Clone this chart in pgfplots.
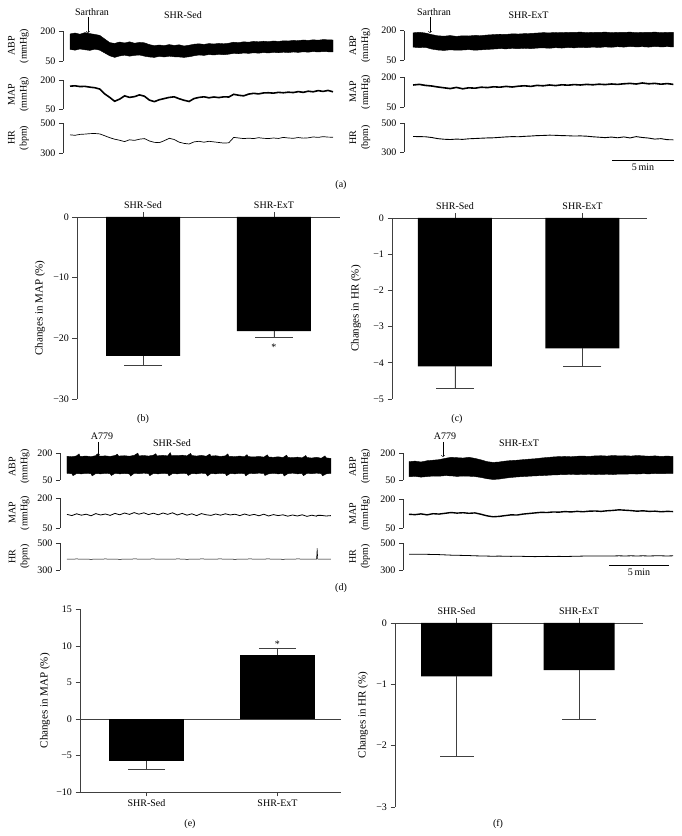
\documentclass[border=0pt]{standalone}
\usepackage{pgfplots}
\pgfplotsset{compat=1.18}
\usepackage{pgfplotstable}
\usepackage{fontspec}
\setmainfont{Liberation Serif}

% columns: time (min), MAP (mmHg), HR (bpm)
\pgfplotstableread{
t map hr
0.0 168 421
0.4 170 418
0.8 166 424
1.2 167 426
1.6 163 429
2.0 160 430
2.4 153 427
2.8 128 415
3.2 110 402
3.6 90 392
4.0 101 385
4.4 118 376
4.8 110 388
5.2 114 384
5.6 123 392
6.0 116 396
6.4 96 380
6.8 88 371
7.2 98 369
7.6 104 382
8.0 110 398
8.4 113 390
8.8 103 372
9.2 95 364
9.6 89 360
10.0 104 374
10.4 110 378
10.8 113 372
11.2 108 378
11.6 112 374
12.0 109 370
12.4 113 366
12.8 112 368
13.2 126 404
13.6 121 400
14.0 118 396
14.4 127 399
14.8 131 396
15.2 128 402
15.6 133 398
16.0 134 396
16.4 132 400
16.8 136 397
17.2 134 404
17.6 137 400
18.0 135 398
18.4 140 403
18.8 136 399
19.2 142 401
19.6 139 407
20.0 145 404
20.4 141 409
20.8 146 406
21.2 139 405
}\aL

\pgfplotstableread{
t map hr
0.0 160 407
0.5 163 406
1.0 158 405
1.5 155 400
2.0 150 392
2.5 146 388
3.0 142 386
3.5 148 389
4.0 141 387
4.5 146 391
5.0 144 393
5.5 149 395
6.0 147 397
6.5 151 398
7.0 149 401
7.5 153 404
8.0 150 406
8.5 154 405
9.0 156 408
9.5 153 410
10.0 158 413
10.5 156 414
11.0 160 416
11.5 157 415
12.0 161 413
12.5 159 412
13.0 162 410
13.5 160 411
14.0 163 409
14.5 161 405
15.0 164 402
15.5 162 399
16.0 165 403
16.5 163 398
17.0 166 404
17.5 168 397
18.0 165 406
18.5 170 400
19.0 166 396
19.5 168 389
20.0 164 392
20.5 167 385
21.0 163 384
}\aR

\pgfplotstableread{
t map hr
0.0 118 381
0.4 112 380
0.8 121 382
1.2 114 380
1.6 119 381
2.0 111 379
2.4 122 381
2.8 115 380
3.2 120 382
3.6 113 380
4.0 123 381
4.4 116 379
4.8 125 381
5.2 118 380
5.6 127 382
6.0 119 381
6.4 126 380
6.8 117 381
7.2 124 382
7.6 116 380
8.0 125 381
8.4 118 381
8.8 126 380
9.2 115 382
9.6 123 381
10.0 114 379
10.4 121 381
10.8 112 380
11.2 122 382
11.6 116 381
12.0 113 380
12.4 120 381
12.8 114 382
13.2 121 380
13.6 115 381
14.0 119 379
14.4 112 381
14.8 120 380
15.2 113 382
15.6 118 381
16.0 111 380
16.4 119 381
16.8 110 382
17.2 117 380
17.6 112 381
18.0 116 379
18.4 109 381
18.8 115 380
19.2 110 382
19.6 116 381
20.0 108 380
20.4 114 381
20.8 109 380
20.85 112 461
20.9 113 381
21.2 113 381
21.6 110 380
22.0 112 381
}\dL

\pgfplotstableread{
t map hr
0.0 121 417
0.5 119 417
1.0 123 416
1.5 118 416
2.0 124 415
2.5 122 414
3.0 126 412
3.5 130 410
4.0 127 409
4.5 129 408
5.0 126 407
5.5 128 405
6.0 121 404
6.5 113 403
7.0 108 402
7.5 110 403
8.0 114 402
8.5 118 401
9.0 117 402
9.5 122 401
10.0 125 400
10.5 128 399
11.0 131 400
11.5 130 401
12.0 133 400
12.5 132 401
13.0 135 400
13.5 133 401
14.0 136 402
14.5 134 403
15.0 137 403
15.5 138 404
16.0 136 403
16.5 139 404
17.0 141 404
17.5 144 405
18.0 142 404
18.5 140 405
19.0 137 404
19.5 139 405
20.0 136 404
20.5 137 405
21.0 134 405
21.5 136 404
22.0 135 405
}\dR

\newcommand{\fs}{\fontsize{10}{12}\selectfont}
\newcommand{\fl}{\fontsize{11}{13}\selectfont}

\pgfplotsset{
  tr/.style={scale only axis, anchor=south west, axis x line=none, axis y line*=left, clip=false,
    tick align=outside, major tick length=4pt,
    axis line style={black!80, line width=0.5pt}, tick style={black!80, line width=0.5pt},
    tick label style={font=\fs},
    ylabel style={font=\fs, align=center, anchor=center}},
  bp/.style={tr, ymin=50, ymax=200, ytick={50,200}, yticklabels={50,200}},
  hp/.style={tr, ymin=300, ymax=500, ytick={300,500}, yticklabels={300,500}},
  bc/.style={scale only axis, anchor=south west, axis y line*=left, tick align=outside,
    major tick length=4.5pt,
    axis line style={black!75, line width=0.6pt}, tick style={black!75, line width=0.6pt},
    xtick={1,2}, xticklabels={SHR-Sed,SHR-ExT}, tick label style={font=\fs},
    ylabel style={font=\fl, anchor=center}},
  bb/.style={ybar, bar width=#1, bar shift=0pt, fill=black, draw=none},
  eb/.style 2 args={error bars/.cd, y dir=#1, y explicit,
    error bar style={black!75, line width=0.6pt},
    error mark options={rotate=90, mark size=#2, black!75, line width=0.6pt}},
  band/.style={fill=black, draw=black, line width=0.4pt},
}

\begin{document}
\begin{tikzpicture}
\useasboundingbox (0,0) rectangle (682pt,836pt);

% ---------- (a) left ----------
\begin{axis}[bp, at={(63pt,775pt)}, width=270pt, height=30pt, xmin=-0.565, xmax=21.2,
  ylabel={ABP\\(mmHg)}, ylabel style={at={(axis description cs:-0.165,0.5)}}]
\addplot[band] coordinates {(0,185)(0.4,190)(0.8,184)(1.2,192)(1.6,187)(2.0,183)(2.4,178)(2.8,160)(3.2,142)(3.6,138)(4.0,145)(4.4,140)(4.8,146)(5.2,139)(5.6,143)(6.0,141)(6.4,132)(6.8,127)(7.2,130)(7.6,127)(8.0,132)(8.4,128)(8.8,131)(9.2,125)(9.6,129)(10.0,134)(10.4,136)(10.8,133)(11.2,137)(11.6,135)(12.0,138)(12.4,136)(12.8,139)(13.2,144)(13.6,142)(14.0,146)(14.4,144)(14.8,148)(15.2,146)(15.6,149)(16.0,147)(16.4,150)(16.8,148)(17.2,151)(17.6,150)(18.0,153)(18.4,152)(18.8,155)(19.2,153)(19.6,156)(20.0,154)(20.4,157)(20.8,156)(21.2,155)
(21.2,95)(20.8,96)(20.4,97)(20.0,95)(19.6,97)(19.2,94)(18.8,96)(18.4,93)(18.0,95)(17.6,92)(17.2,94)(16.8,91)(16.4,93)(16.0,90)(15.6,92)(15.2,89)(14.8,91)(14.4,88)(14.0,90)(13.6,86)(13.2,88)(12.8,84)(12.4,81)(12.0,83)(11.6,80)(11.2,82)(10.8,78)(10.4,80)(10.0,76)(9.6,71)(9.2,68)(8.8,70)(8.4,71)(8.0,74)(7.6,70)(7.2,73)(6.8,68)(6.4,70)(6.0,74)(5.6,80)(5.2,78)(4.8,74)(4.4,79)(4.0,75)(3.6,68)(3.2,76)(2.8,90)(2.4,104)(2.0,109)(1.6,103)(1.2,106)(0.8,110)(0.4,104)(0.0,108)} -- cycle;
\end{axis}
\begin{axis}[bp, at={(63pt,727pt)}, width=270pt, height=29pt, xmin=-0.565, xmax=21.2,
  ylabel={MAP\\(mmHg)}, ylabel style={at={(axis description cs:-0.165,0.5)}}]
\addplot[black, line width=1.6pt] table[x=t,y=map]{\aL};
\end{axis}
\begin{axis}[hp, at={(63pt,683pt)}, width=270pt, height=30pt, xmin=-0.565, xmax=21.2,
  ylabel={HR\\(bpm)}, ylabel style={at={(axis description cs:-0.165,0.5)}}]
\addplot[black, line width=0.7pt] table[x=t,y=hr]{\aL};
\end{axis}

% ---------- (a) right ----------
\begin{axis}[bp, at={(404pt,776pt)}, width=270pt, height=29.3pt, xmin=-0.73, xmax=21.05,
  ylabel={ABP\\(mmHg)}, ylabel style={at={(axis description cs:-0.163,0.5)}}]
\addplot[band] coordinates {(0,189)(0.5,192)(1,188)(1.5,180)(2,174)(2.5,172)(3,175)(3.5,171)(4,174)(4.5,173)(5,176)(5.5,175)(6,178)(6.5,180)(7,182)(7.5,181)(8,184)(8.5,183)(9,185)(9.5,186)(10,188)(10.5,190)(11,189)(11.5,191)(12,190)(12.5,192)(13,191)(13.5,193)(14,190)(14.5,192)(15,191)(15.5,193)(16,190)(16.5,192)(17,191)(17.5,193)(18,190)(18.5,192)(19,191)(19.5,193)(20,190)(20.5,192)(21,191)
(21,117)(20.5,118)(20,117)(19.5,119)(19,116)(18.5,118)(18,117)(17.5,119)(17,116)(16.5,118)(16,115)(15.5,117)(15,114)(14.5,116)(14,113)(13.5,115)(13,112)(12.5,114)(12,111)(11.5,113)(11,110)(10.5,112)(10,111)(9.5,108)(9,110)(8.5,108)(8,109)(7.5,107)(7,108)(6.5,106)(6,104)(5.5,102)(5,100)(4.5,103)(4,101)(3.5,100)(3,102)(2.5,99)(2,101)(1.5,106)(1,115)(0.5,113)(0,116)} -- cycle;
\end{axis}
\begin{axis}[bp, at={(404pt,729pt)}, width=270pt, height=30pt, xmin=-0.73, xmax=21.05,
  ylabel={MAP\\(mmHg)}, ylabel style={at={(axis description cs:-0.163,0.5)}}]
\addplot[black, line width=1.6pt] table[x=t,y=map]{\aR};
\end{axis}
\begin{axis}[hp, at={(404pt,684pt)}, width=270pt, height=29pt, xmin=-0.73, xmax=21.05,
  ylabel={HR\\(bpm)}, ylabel style={at={(axis description cs:-0.163,0.5)}}]
\addplot[black, line width=0.9pt] table[x=t,y=hr]{\aR};
\addplot[black, line width=0.6pt] coordinates {(16.05,245) (21.05,245)};
\node[font=\fs] at (axis cs:18.55,197) {5\,min};
\end{axis}

% ---------- (d) left ----------
\begin{axis}[bp, at={(60pt,356pt)}, width=273pt, height=27pt, xmin=-0.583, xmax=22.17,
  ylabel={ABP\\(mmHg)}, ylabel style={at={(axis description cs:-0.150,0.5)}}]
\addplot[band] coordinates {(0,182)(0.4,179)(0.8,184)(1.0,195)(1.1,181)(1.6,183)(2.0,180)(2.4,185)(2.6,197)(2.7,182)(3.2,184)(3.6,181)(4.0,186)(4.2,193)(4.3,183)(4.8,185)(5.2,182)(5.6,187)(5.9,199)(6.0,184)(6.4,186)(6.8,183)(7.2,188)(7.4,196)(7.5,184)(8.0,187)(8.4,184)(8.6,202)(8.7,186)(9.2,185)(9.6,188)(10.0,184)(10.3,198)(10.4,186)(10.8,183)(11.2,187)(11.6,182)(11.9,194)(12.0,183)(12.4,185)(12.8,181)(13.2,184)(13.4,195)(13.5,182)(14.0,180)(14.4,183)(14.8,179)(15.0,191)(15.1,180)(15.6,178)(16.0,181)(16.4,177)(16.7,190)(16.8,178)(17.2,176)(17.6,179)(18.0,175)(18.3,188)(18.4,176)(18.8,174)(19.2,177)(19.6,173)(19.9,186)(20.0,175)(20.4,172)(20.8,176)(21.2,171)(21.5,184)(21.6,173)(22.0,170)
(22.0,87)(21.6,84)(21.3,73)(21.2,85)(20.8,88)(20.4,85)(20.0,87)(19.7,74)(19.6,86)(19.2,84)(18.8,88)(18.4,85)(18.1,72)(18.0,86)(17.6,84)(17.2,87)(16.8,84)(16.5,75)(16.4,86)(16.0,88)(15.6,85)(15.2,87)(14.9,73)(14.8,85)(14.4,87)(14.0,84)(13.6,86)(13.3,74)(13.2,85)(12.8,87)(12.4,84)(12.0,86)(11.7,72)(11.6,85)(11.2,88)(10.8,84)(10.4,86)(10.1,75)(10.0,85)(9.6,87)(9.2,84)(8.8,86)(8.5,73)(8.4,85)(8.0,87)(7.6,84)(7.2,86)(6.9,74)(6.8,85)(6.4,88)(6.0,85)(5.6,87)(5.3,72)(5.2,84)(4.8,86)(4.4,84)(4.0,87)(3.7,75)(3.6,85)(3.2,87)(2.8,84)(2.4,86)(2.1,73)(2.0,85)(1.6,87)(1.2,84)(0.8,86)(0.5,74)(0.4,85)(0.0,87)} -- cycle;
\end{axis}
\begin{axis}[bp, at={(60pt,308pt)}, width=273pt, height=30pt, xmin=-0.583, xmax=22.17,
  ylabel={MAP\\(mmHg)}, ylabel style={at={(axis description cs:-0.150,0.5)}}]
\addplot[black, line width=0.8pt] table[x=t,y=map]{\dL};
\end{axis}
\begin{axis}[hp, at={(60pt,266pt)}, width=273pt, height=27pt, xmin=-0.583, xmax=22.17,
  ylabel={HR\\(bpm)}, ylabel style={at={(axis description cs:-0.150,0.5)}}]
\addplot[black, line width=0.5pt] table[x=t,y=hr]{\dL};
\end{axis}

% ---------- (d) right ----------
\begin{axis}[bp, at={(403pt,356pt)}, width=271pt, height=27pt, xmin=-0.5, xmax=22.08,
  ylabel={ABP\\(mmHg)}, ylabel style={at={(axis description cs:-0.160,0.5)}}]
\addplot[band] coordinates {(0,152)(0.5,155)(1,150)(1.5,157)(2,160)(2.5,163)(3,170)(3.5,176)(4,174)(4.5,172)(5,176)(5.5,170)(6,162)(6.5,152)(7,148)(7.5,150)(8,155)(8.5,158)(9,160)(9.5,163)(10,166)(10.5,168)(11,172)(11.5,175)(12,178)(12.5,180)(13,181)(13.5,179)(14,182)(14.5,183)(15,181)(15.5,184)(16,185)(16.5,183)(17,186)(17.5,184)(18,185)(18.5,183)(19,186)(19.5,184)(20,182)(20.5,184)(21,181)(21.5,183)(22,181)
(22,86)(21.5,86)(21,85)(20.5,86)(20,84)(19.5,85)(19,83)(18.5,84)(18,82)(17.5,83)(17,80)(16.5,82)(16,81)(15.5,80)(15,82)(14.5,81)(14,80)(13.5,81)(13,80)(12.5,79)(12,78)(11.5,76)(11,74)(10.5,73)(10,71)(9.5,69)(9,67)(8.5,64)(8,60)(7.5,55)(7,53)(6.5,57)(6,64)(5.5,69)(5,71)(4.5,72)(4,70)(3.5,73)(3,74)(2.5,71)(2,72)(1.5,69)(1,66)(0.5,70)(0,68)} -- cycle;
\end{axis}
\begin{axis}[bp, at={(403pt,308pt)}, width=271pt, height=29pt, xmin=-0.5, xmax=22.08,
  ylabel={MAP\\(mmHg)}, ylabel style={at={(axis description cs:-0.160,0.5)}}]
\addplot[black, line width=1.4pt] table[x=t,y=map]{\dR};
\end{axis}
\begin{axis}[hp, at={(403pt,266pt)}, width=271pt, height=27pt, xmin=-0.5, xmax=22.08,
  ylabel={HR\\(bpm)}, ylabel style={at={(axis description cs:-0.160,0.5)}}]
\addplot[black, line width=0.8pt] table[x=t,y=hr]{\dR};
\addplot[black, line width=0.6pt] coordinates {(16.67,337) (21.67,337)};
\node[font=\fs] at (axis cs:19.17,285) {5\,min};
\end{axis}

% ---------- (b) ----------
\begin{axis}[bc, at={(77pt,437pt)}, width=263pt, height=182pt,
  xmin=0.496, xmax=2.504, ymin=-30, ymax=0, axis x line*=top,
  ytick={-30,-20,-10,0}, yticklabels={−30,−20,−10,0},
  ylabel={Changes in MAP (\%)}, ylabel style={at={(axis description cs:-0.141,0.5)}}]
\addplot[bb=74pt, eb={minus}{19pt}] coordinates {(1,-22.9) -= (0,1.5) (2,-18.8) -= (0,1.1)};
\node[font=\fs] at (axis cs:2,-21.4) {*};
\end{axis}

% ---------- (c) ----------
\begin{axis}[bc, at={(392pt,437pt)}, width=255pt, height=181pt,
  xmin=0.506, xmax=2.506, ymin=-5, ymax=0, axis x line*=top,
  ytick={-5,-4,-3,-2,-1,0}, yticklabels={−5,−4,−3,−2,−1,0},
  ylabel={Changes in HR (\%)}, ylabel style={at={(axis description cs:-0.141,0.5)}}]
\addplot[bb=74pt, eb={minus}{19pt}] coordinates {(1,-4.1) -= (0,0.6) (2,-3.6) -= (0,0.5)};
\end{axis}

% ---------- (e) ----------
\begin{axis}[bc, at={(80pt,44pt)}, width=261pt, height=182.5pt,
  xmin=0.492, xmax=2.485, ymin=-10, ymax=15, axis x line*=bottom,
  ytick={-10,-5,0,5,10,15}, yticklabels={−10,−5,0,5,10,15},
  ylabel={Changes in MAP (\%)}, ylabel style={at={(axis description cs:-0.134,0.5)}}]
\draw[black!75, line width=0.6pt] (axis cs:0.492,0) -- (axis cs:2.485,0);
\addplot[bb=75pt, eb={minus}{18.5pt}] coordinates {(1,-5.8) -= (0,1.05)};
\addplot[bb=75pt, eb={plus}{18.5pt}] coordinates {(2,8.8) += (0,0.9)};
\node[font=\fs] at (axis cs:2,10.2) {*};
\end{axis}

% ---------- (f) ----------
\begin{axis}[bc, at={(395pt,29pt)}, width=248pt, height=184pt,
  xmin=0.498, xmax=2.522, ymin=-3, ymax=0, axis x line*=top,
  ytick={-3,-2,-1,0}, yticklabels={−3,−2,−1,0},
  ylabel={Changes in HR (\%)}, ylabel style={at={(axis description cs:-0.129,0.5)}}]
\addplot[bb=71pt, eb={minus}{17pt}]
  coordinates {(1,-0.87) -= (0,1.31) (2,-0.77) -= (0,0.8)};
\end{axis}

% ---------- annotations ----------
\begin{scope}[font=\fs]
\node at (92pt,824pt) {Sarthran};
\draw[->, line width=0.5pt] (88pt,819pt) -- (88pt,803pt);
\node at (183pt,821pt) {SHR-Sed};
\node at (434pt,824pt) {Sarthran};
\draw[->, line width=0.5pt] (430pt,819pt) -- (430pt,803pt);
\node at (528.5pt,821pt) {SHR-ExT};
\node at (341pt,651pt) {(a)};
\node at (143pt,417pt) {(b)};
\node at (457pt,417pt) {(c)};
\node at (102pt,400pt) {A779};
\draw[->, line width=0.5pt] (98pt,394pt) -- (98pt,380pt);
\node at (172pt,393pt) {SHR-Sed};
\node at (445pt,400pt) {A779};
\draw[->, line width=0.5pt] (443pt,394pt) -- (443pt,379pt);
\node at (519pt,393pt) {SHR-ExT};
\node at (341pt,248pt) {(d)};
\node at (190pt,12pt) {(e)};
\node at (498pt,12pt) {(f)};
\end{scope}
\end{tikzpicture}
\end{document}
